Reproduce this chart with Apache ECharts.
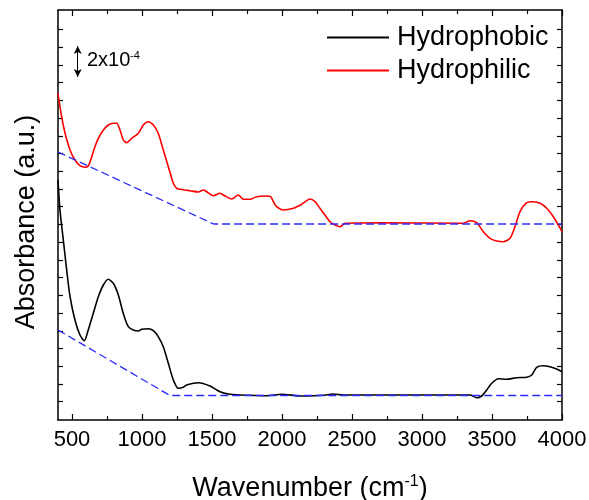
<!DOCTYPE html>
<html>
<head>
<meta charset="utf-8">
<script src="https://cdn.jsdelivr.net/npm/echarts@6/dist/echarts.min.js"></script>
<style>html,body{margin:0;padding:0;background:#fff}#c{width:589px;height:500px}</style>
</head>
<body>
<div id="c"></div>
<script>
// Wavenumber (cm^-1) and absorbance (arbitrary units)
const hydrophilicX = [400,426,450,486,521,557,593,616,641,664,688,724,759,795,819,843,866,891,926,974,1009,1045,1081,1116,1152,1188,1224,1248,1271,1307,1343,1402,1438,1462,1509,1557,1593,1641,1688,1724,1771,1819,1879,1919,1938,1962,2009,2081,2141,2200,2236,2271,2307,2343,2379,2414,2450,2700,3295,3343,3391,3438,3486,3534,3581,3629,3664,3700,3748,3795,3843,3891,3938,3974,4000];
const hydrophilicY = [326.7,303.3,287,270,260,254.3,252.7,254,263.3,273.3,281.7,290,295,296.7,296.7,290,280,277.3,281.7,286.7,295,298.3,295,286.7,270,253.3,236.7,231.7,230.7,230,229.3,228,230,228.3,224.3,226.7,224,221,225,220.7,220.7,223.3,224,223.3,218.3,213.3,210,211.7,215.7,221,218.3,211.7,205,198.3,195,193.3,196.7,197.3,196.7,199.3,197.3,188.3,181.7,179,178.3,181.7,193.3,208.3,217.3,218.3,216.7,211.7,203.3,195,188.3];
const hydrophobicX = [400,414,438,462,486,521,557,588,616,652,688,724,759,795,831,866,902,938,974,998,1045,1081,1116,1152,1188,1224,1259,1295,1319,1402,1486,1557,1629,1771,1891,1998,2129,2176,2295,2366,2438,3343,3391,3426,3462,3498,3545,3605,3676,3748,3784,3819,3866,3914,3962,4000];
const hydrophobicY = [240,210,180,150,123.3,100,85,79.3,90,106.7,123.3,135,140.7,136.7,125,106.7,93.3,90,89,90.7,91.3,89.3,83.3,73.3,56.7,40,31.7,32.7,35,37.3,34,28.3,25.7,24.7,24.3,25.7,24,24,24.7,26,25,25,22.3,24,30,36.7,41.3,40.7,42.3,42.7,45,52.7,54.3,53.3,51,48.3];
const baselinePhilicX = [400,1511,4000];
const baselinePhilicY = [268,196,196];
const baselinePhobicX = [400,1200,4000];
const baselinePhobicY = [90,24.5,24.5];
const xMajorTicks = [500,1000,1500,2000,2500,3000,3500,4000];
const xMinorTicks = [750,1250,1750,2250,2750,3250,3750];
const yTicks = [18.3,36,53.8,71.5,89.2,107,124.7,142.4,160.1,177.9,195.6,213.3,231,248.8,266.5,284.2,302,319.7,337.4,355.1,372.9,390.6];
const scaleBarX = 541, scaleBarY = [343, 374];
const seriesNames = ['Hydrophobic','Hydrophilic'];

const zip = (xs, ys) => xs.map((x, i) => [x, ys[i]]);
const FONT = '"Liberation Sans", Arial, sans-serif';

const chart = echarts.init(document.getElementById('c'), null, {renderer: 'canvas'});
const axisLine = {show: true, lineStyle: {color: '#000', width: 1.5}};
const xAxisBase = {type: 'value', min: 400, max: 4000, splitLine: {show: false}};
const option = {
  animation: false,
  grid: {left: 58, right: 27, top: 10, bottom: 80, containLabel: false, outerBoundsMode: 'none'},
  legend: {
    data: seriesNames,
    orient: 'vertical',
    left: 322, top: 19,
    icon: 'path://M0,0 L62,0 L62,2 L0,2 Z',
    itemWidth: 62, itemHeight: 2, itemGap: 6,
    textStyle: {fontSize: 27, fontFamily: FONT, color: '#000', padding: [0, 0, 0, 3], lineHeight: 27}
  },
  xAxis: [
    Object.assign({}, xAxisBase, {
      position: 'bottom',
      axisLine: axisLine,
      axisTick: {show: true, inside: true, length: 6, customValues: xMajorTicks, lineStyle: {color: '#000', width: 1.2}},
      axisLabel: {show: true, customValues: xMajorTicks, formatter: v => String(v), fontSize: 22, fontFamily: FONT, color: '#000', margin: 9, hideOverlap: false},
      name: '{a|Wavenumber (cm}{s|-1}{a|)}',
      nameLocation: 'middle',
      nameGap: 54,
      nameTextStyle: {rich: {
        a: {fontSize: 27, fontFamily: FONT, color: '#000', lineHeight: 30},
        s: {fontSize: 16, fontFamily: FONT, color: '#000', verticalAlign: 'top', lineHeight: 30}
      }}
    }),
    Object.assign({}, xAxisBase, {
      position: 'bottom',
      axisLine: {show: false},
      axisTick: {show: true, inside: true, length: 4, customValues: xMinorTicks, lineStyle: {color: '#000', width: 1.2}},
      axisLabel: {show: false}
    }),
    Object.assign({}, xAxisBase, {
      position: 'top',
      axisLine: axisLine,
      axisTick: {show: true, inside: true, length: 6, customValues: xMajorTicks, lineStyle: {color: '#000', width: 1.2}},
      axisLabel: {show: false}
    }),
    Object.assign({}, xAxisBase, {
      position: 'top',
      axisLine: {show: false},
      axisTick: {show: true, inside: true, length: 4, customValues: xMinorTicks, lineStyle: {color: '#000', width: 1.2}},
      axisLabel: {show: false}
    })
  ],
  yAxis: [
    {
      type: 'value', min: 0, max: 410, position: 'left',
      splitLine: {show: false},
      axisLine: axisLine,
      axisTick: {show: true, inside: true, length: 5, customValues: yTicks, lineStyle: {color: '#000', width: 1.2}},
      axisLabel: {show: false},
      name: 'Absorbance (a.u.)',
      nameLocation: 'middle',
      nameGap: 18,
      nameTextStyle: {fontSize: 27, fontFamily: FONT, color: '#000', padding: [0, 14, 0, 0]}
    },
    {
      type: 'value', min: 0, max: 410, position: 'right',
      splitLine: {show: false},
      axisLine: axisLine,
      axisTick: {show: true, inside: true, length: 5, customValues: yTicks, lineStyle: {color: '#000', width: 1.2}},
      axisLabel: {show: false}
    }
  ],
  series: [
    {
      name: 'Hydrophobic', type: 'line', data: zip(hydrophobicX, hydrophobicY),
      showSymbol: false, symbol: 'none', smooth: 0.25,
      lineStyle: {color: '#000', width: 1.6}, itemStyle: {color: '#000'}
    },
    {
      name: 'Hydrophilic', type: 'line', data: zip(hydrophilicX, hydrophilicY),
      showSymbol: false, symbol: 'none', smooth: 0.25,
      lineStyle: {color: '#ff0000', width: 1.6}, itemStyle: {color: '#ff0000'},
      markLine: {
        silent: true, symbol: ['arrow', 'arrow'], symbolSize: [6, 8],
        lineStyle: {color: '#000', width: 1, type: 'solid'},
        label: {show: false},
        data: [[{coord: [scaleBarX, scaleBarY[0]]}, {coord: [scaleBarX, scaleBarY[1]]}]]
      }
    },
    {
      name: 'baseline1', type: 'line', data: zip(baselinePhilicX, baselinePhilicY),
      showSymbol: false, symbol: 'none',
      lineStyle: {color: '#2b2bff', width: 1.3, type: [8, 4]}
    },
    {
      name: 'baseline2', type: 'line', data: zip(baselinePhobicX, baselinePhobicY),
      showSymbol: false, symbol: 'none',
      lineStyle: {color: '#2b2bff', width: 1.3, type: [8, 4]}
    }
  ],
  graphic: [
    {type: 'text', left: 87, top: 50, style: {text: '2x10', fontSize: 20, fontFamily: FONT, fill: '#000'}},
    {type: 'text', left: 130, top: 50, style: {text: '-4', fontSize: 11, fontFamily: FONT, fill: '#000'}}
  ]
};
chart.setOption(option);
</script>
</body>
</html>
